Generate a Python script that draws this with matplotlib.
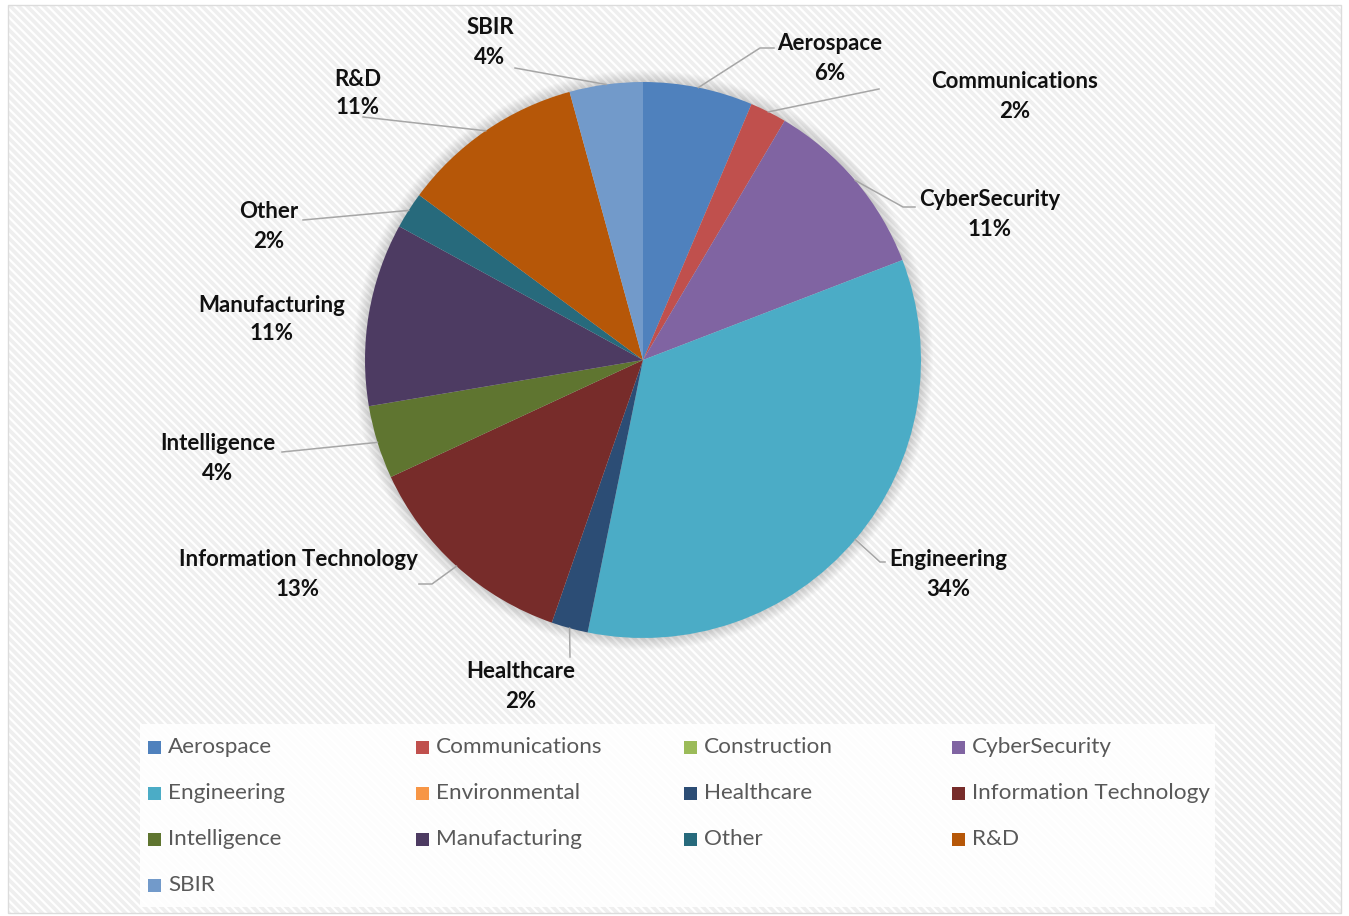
import matplotlib
matplotlib.use("Agg")
import matplotlib.pyplot as plt
from matplotlib.patches import Rectangle, Circle
import numpy as np

# ---- data -------------------------------------------------------------
categories = ["Aerospace", "Communications", "Construction", "CyberSecurity",
              "Engineering", "Environmental", "Healthcare", "Information Technology",
              "Intelligence", "Manufacturing", "Other", "R&D", "SBIR"]
counts = [3, 1, 0, 5, 16, 0, 1, 6, 2, 5, 1, 5, 2]
colors = ["#4F81BD", "#C0504D", "#9BBB59", "#8064A2", "#4BACC6", "#F79646",
          "#2C4D75", "#772C2A", "#5F7530", "#4D3B62", "#276A7C", "#B65708", "#729ACA"]

# label anchor (centre of the category line) and leader-line path, in pixels
label_pos = {
    "Aerospace": (830, 44), "Communications": (1015, 82), "CyberSecurity": (990, 200),
    "Engineering": (948, 560), "Healthcare": (521, 672),
    "Information Technology": (298, 560), "Intelligence": (218, 444),
    "Manufacturing": (272, 305), "Other": (269, 212), "R&D": (358, 79), "SBIR": (490, 28),
}
leaders = {
    "Aerospace": [(760, 48), (774, 48)], "Communications": [(879, 89)],
    "CyberSecurity": [(903, 207), (915, 207)], "Engineering": [(880, 562), (885, 562)],
    "Healthcare": [(570, 657)], "Information Technology": [(432, 584), (419, 584)],
    "Intelligence": [(282, 452)], "Manufacturing": [], "Other": [(303, 220)],
    "R&D": [(363, 117)], "SBIR": [(515, 68)],
}

W, H = 1349, 916
fig = plt.figure(figsize=(W / 100, H / 100), dpi=100)
fig.patch.set_facecolor("white")
ax = fig.add_axes([0, 0, 1, 1])
ax.set_xlim(0, W)
ax.set_ylim(0, H)
ax.axis("off")


def py(y):
    return H - y


plt.rcParams["hatch.linewidth"] = 1.6

# chart area: light grey with fine white diagonal stripes
ax.add_patch(Rectangle((8, py(913)), 1333, 908, facecolor="#efefef",
                       edgecolor="white", hatch="\\\\\\\\", lw=0, zorder=0))
ax.add_patch(Rectangle((8, py(913)), 1333, 908, facecolor="none",
                       edgecolor="#dcdcdc", lw=1, zorder=0.5))

cx, cy, R = 643, py(360), 278

# soft glow around the pie
for i in range(10):
    ax.add_patch(Circle((cx, cy), R + 1 + i * 1.2, facecolor="black",
                        alpha=0.016, lw=0, zorder=1))

wedges, _ = ax.pie(counts, colors=colors, startangle=90, counterclock=False,
                   center=(cx, cy), radius=R, frame=True,
                   wedgeprops=dict(linewidth=0), normalize=True)
for w in wedges:
    w.set_zorder(2)
ax.set_xlim(0, W)
ax.set_ylim(0, H)
ax.set_aspect("equal")
ax.axis("off")

total = sum(counts)
font = ["Lato", "DejaVu Sans"]
cum = 0
for name, c in zip(categories, counts):
    if c == 0:
        continue
    mid = (cum + c / 2) / total
    cum += c
    ang = np.pi / 2 - 2 * np.pi * mid
    sx, sy = cx + R * np.cos(ang), cy + R * np.sin(ang)
    pts = [(sx, sy)] + [(x, py(y)) for x, y in leaders[name]]
    if len(pts) > 1:
        xs, ys = zip(*pts)
        ax.plot(xs, ys, color="#a6a6a6", lw=1.1, zorder=3)
    lx, ly = label_pos[name]
    ax.text(lx, py(ly), name, ha="center", va="center", fontsize=16,
            fontweight="bold", color="#111111", family=font, zorder=4)
    ax.text(lx, py(ly + 29), f"{round(100 * c / total)}%", ha="center",
            va="center", fontsize=16, fontweight="bold", color="#111111",
            family=font, zorder=4)

# legend panel
ax.add_patch(Rectangle((140, py(907)), 1075, 183, facecolor="white",
                       edgecolor="none", alpha=0.9, zorder=1))
col_x = [148, 416, 684, 952]
row_y = [747, 793, 839, 885]
for i, (name, col) in enumerate(zip(categories, colors)):
    x0 = col_x[i % 4]
    y0 = row_y[i // 4]
    ax.add_patch(Rectangle((x0, py(y0) - 6.5), 13, 13, facecolor=col,
                           edgecolor="none", zorder=3))
    ax.text(x0 + 20, py(y0), name, ha="left", va="center", fontsize=16.2,
            color="#595959", family=font, zorder=3)

fig.savefig("out.png", dpi=100)
